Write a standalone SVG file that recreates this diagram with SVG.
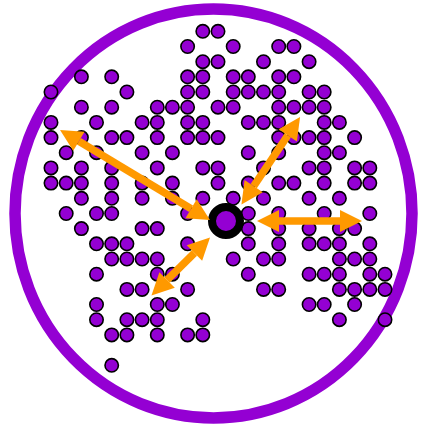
<svg xmlns="http://www.w3.org/2000/svg" width="425" height="426" viewBox="0 0 425 426">
<style>
.d{fill:#9400d3;stroke:#000;stroke-width:1.6}
.ar{stroke:#ff9900;stroke-width:7.5;fill:none;marker-start:url(#h);marker-end:url(#h)}
</style>
<defs>
<marker id="h" markerUnits="userSpaceOnUse" markerWidth="22" markerHeight="22" refX="0" refY="11" orient="auto-start-reverse" overflow="visible">
<path d="M0,0 L22,11 L0,22 z" fill="#ff9900"/>
</marker>
</defs>
<rect width="425" height="426" fill="#fff"/>
<g id="ring"><ellipse cx="213.5" cy="213.5" rx="198.5" ry="204.5" fill="none" stroke="#9400d3" stroke-width="11.5"/></g>
<g id="dots" class="dots">
<g transform="translate(0,31.3)"><circle class="d" r="6.7" cx="202.8"/><circle class="d" r="6.7" cx="218"/></g>
<g transform="translate(0,46.5)"><circle class="d" r="6.7" cx="187.6"/><circle class="d" r="6.7" cx="233.2"/><circle class="d" r="6.7" cx="278.7"/><circle class="d" r="6.7" cx="293.9"/></g>
<g transform="translate(0,61.7)"><circle class="d" r="6.7" cx="202.8"/><circle class="d" r="6.7" cx="218"/><circle class="d" r="6.7" cx="263.5"/><circle class="d" r="6.7" cx="309.1"/></g>
<g transform="translate(0,76.8)"><circle class="d" r="6.7" cx="81.4"/><circle class="d" r="6.7" cx="111.7"/><circle class="d" r="6.7" cx="187.6"/><circle class="d" r="6.7" cx="202.8"/><circle class="d" r="6.7" cx="233.2"/><circle class="d" r="6.7" cx="248.3"/><circle class="d" r="6.7" cx="278.7"/><circle class="d" r="6.7" cx="293.9"/></g>
<g transform="translate(0,92)"><circle class="d" r="6.7" cx="51"/><circle class="d" r="6.7" cx="126.9"/><circle class="d" r="6.7" cx="187.6"/><circle class="d" r="6.7" cx="202.8"/><circle class="d" r="6.7" cx="233.2"/><circle class="d" r="6.7" cx="248.3"/><circle class="d" r="6.7" cx="263.5"/><circle class="d" r="6.7" cx="278.7"/><circle class="d" r="6.7" cx="309.1"/><circle class="d" r="6.7" cx="324.2"/></g>
<g transform="translate(0,107.2)"><circle class="d" r="6.7" cx="81.4"/><circle class="d" r="6.7" cx="111.7"/><circle class="d" r="6.7" cx="157.3"/><circle class="d" r="6.7" cx="172.4"/><circle class="d" r="6.7" cx="187.6"/><circle class="d" r="6.7" cx="218"/><circle class="d" r="6.7" cx="233.2"/><circle class="d" r="6.7" cx="278.7"/><circle class="d" r="6.7" cx="293.9"/><circle class="d" r="6.7" cx="309.1"/><circle class="d" r="6.7" cx="324.2"/></g>
<g transform="translate(0,122.4)"><circle class="d" r="6.7" cx="51"/><circle class="d" r="6.7" cx="96.5"/><circle class="d" r="6.7" cx="142.1"/><circle class="d" r="6.7" cx="157.3"/><circle class="d" r="6.7" cx="187.6"/><circle class="d" r="6.7" cx="202.8"/><circle class="d" r="6.7" cx="248.3"/><circle class="d" r="6.7" cx="263.5"/><circle class="d" r="6.7" cx="278.7"/><circle class="d" r="6.7" cx="324.2"/><circle class="d" r="6.7" cx="339.4"/></g>
<g transform="translate(0,137.6)"><circle class="d" r="6.7" cx="51"/><circle class="d" r="6.7" cx="81.4"/><circle class="d" r="6.7" cx="111.7"/><circle class="d" r="6.7" cx="126.9"/><circle class="d" r="6.7" cx="157.3"/><circle class="d" r="6.7" cx="187.6"/><circle class="d" r="6.7" cx="202.8"/><circle class="d" r="6.7" cx="218"/><circle class="d" r="6.7" cx="278.7"/><circle class="d" r="6.7" cx="293.9"/><circle class="d" r="6.7" cx="309.1"/><circle class="d" r="6.7" cx="324.2"/><circle class="d" r="6.7" cx="354.6"/></g>
<g transform="translate(0,152.7)"><circle class="d" r="6.7" cx="66.2"/><circle class="d" r="6.7" cx="96.5"/><circle class="d" r="6.7" cx="142.1"/><circle class="d" r="6.7" cx="172.4"/><circle class="d" r="6.7" cx="248.3"/><circle class="d" r="6.7" cx="278.7"/><circle class="d" r="6.7" cx="324.2"/><circle class="d" r="6.7" cx="339.4"/></g>
<g transform="translate(0,167.9)"><circle class="d" r="6.7" cx="51"/><circle class="d" r="6.7" cx="81.4"/><circle class="d" r="6.7" cx="111.7"/><circle class="d" r="6.7" cx="157.3"/><circle class="d" r="6.7" cx="202.8"/><circle class="d" r="6.7" cx="218"/><circle class="d" r="6.7" cx="263.5"/><circle class="d" r="6.7" cx="309.1"/><circle class="d" r="6.7" cx="324.2"/><circle class="d" r="6.7" cx="354.6"/><circle class="d" r="6.7" cx="369.8"/></g>
<g transform="translate(0,183.1)"><circle class="d" r="6.7" cx="51"/><circle class="d" r="6.7" cx="66.2"/><circle class="d" r="6.7" cx="81.4"/><circle class="d" r="6.7" cx="111.7"/><circle class="d" r="6.7" cx="142.1"/><circle class="d" r="6.7" cx="172.4"/><circle class="d" r="6.7" cx="218"/><circle class="d" r="6.7" cx="248.3"/><circle class="d" r="6.7" cx="278.7"/><circle class="d" r="6.7" cx="293.9"/><circle class="d" r="6.7" cx="324.2"/><circle class="d" r="6.7" cx="354.6"/><circle class="d" r="6.7" cx="369.8"/></g>
<g transform="translate(0,198.3)"><circle class="d" r="6.7" cx="81.4"/><circle class="d" r="6.7" cx="111.7"/><circle class="d" r="6.7" cx="142.1"/><circle class="d" r="6.7" cx="172.4"/><circle class="d" r="6.7" cx="202.8"/><circle class="d" r="6.7" cx="233.2"/><circle class="d" r="6.7" cx="263.5"/><circle class="d" r="6.7" cx="309.1"/><circle class="d" r="6.7" cx="339.4"/></g>
<g transform="translate(0,213.5)"><circle class="d" r="6.7" cx="66.2"/><circle class="d" r="6.7" cx="96.5"/><circle class="d" r="6.7" cx="111.7"/><circle class="d" r="6.7" cx="187.6"/><circle class="d" r="6.7" cx="248.3"/><circle class="d" r="6.7" cx="278.7"/><circle class="d" r="6.7" cx="324.2"/><circle class="d" r="6.7" cx="369.8"/></g>
<g transform="translate(0,228.6)"><circle class="d" r="6.7" cx="81.4"/><circle class="d" r="6.7" cx="142.1"/><circle class="d" r="6.7" cx="157.3"/><circle class="d" r="6.7" cx="248.3"/><circle class="d" r="6.7" cx="278.7"/><circle class="d" r="6.7" cx="309.1"/><circle class="d" r="6.7" cx="339.4"/><circle class="d" r="6.7" cx="354.6"/></g>
<g transform="translate(0,243.8)"><circle class="d" r="6.7" cx="96.5"/><circle class="d" r="6.7" cx="111.7"/><circle class="d" r="6.7" cx="126.9"/><circle class="d" r="6.7" cx="187.6"/><circle class="d" r="6.7" cx="248.3"/><circle class="d" r="6.7" cx="278.7"/><circle class="d" r="6.7" cx="309.1"/><circle class="d" r="6.7" cx="324.2"/><circle class="d" r="6.7" cx="339.4"/><circle class="d" r="6.7" cx="369.8"/></g>
<g transform="translate(0,259)"><circle class="d" r="6.7" cx="111.7"/><circle class="d" r="6.7" cx="126.9"/><circle class="d" r="6.7" cx="142.1"/><circle class="d" r="6.7" cx="157.3"/><circle class="d" r="6.7" cx="233.2"/><circle class="d" r="6.7" cx="263.5"/><circle class="d" r="6.7" cx="278.7"/><circle class="d" r="6.7" cx="339.4"/><circle class="d" r="6.7" cx="354.6"/><circle class="d" r="6.7" cx="369.8"/></g>
<g transform="translate(0,274.2)"><circle class="d" r="6.7" cx="96.5"/><circle class="d" r="6.7" cx="157.3"/><circle class="d" r="6.7" cx="172.4"/><circle class="d" r="6.7" cx="248.3"/><circle class="d" r="6.7" cx="309.1"/><circle class="d" r="6.7" cx="324.2"/><circle class="d" r="6.7" cx="339.4"/><circle class="d" r="6.7" cx="369.8"/><circle class="d" r="6.7" cx="385"/></g>
<g transform="translate(0,289.4)"><circle class="d" r="6.7" cx="126.9"/><circle class="d" r="6.7" cx="142.1"/><circle class="d" r="6.7" cx="187.6"/><circle class="d" r="6.7" cx="263.5"/><circle class="d" r="6.7" cx="278.7"/><circle class="d" r="6.7" cx="339.4"/><circle class="d" r="6.7" cx="354.6"/><circle class="d" r="6.7" cx="369.8"/><circle class="d" r="6.7" cx="385"/></g>
<g transform="translate(0,304.5)"><circle class="d" r="6.7" cx="96.5"/><circle class="d" r="6.7" cx="157.3"/><circle class="d" r="6.7" cx="172.4"/><circle class="d" r="6.7" cx="309.1"/><circle class="d" r="6.7" cx="324.2"/><circle class="d" r="6.7" cx="354.6"/></g>
<g transform="translate(0,319.7)"><circle class="d" r="6.7" cx="96.5"/><circle class="d" r="6.7" cx="126.9"/><circle class="d" r="6.7" cx="142.1"/><circle class="d" r="6.7" cx="157.3"/><circle class="d" r="6.7" cx="202.8"/><circle class="d" r="6.7" cx="339.4"/><circle class="d" r="6.7" cx="385"/></g>
<g transform="translate(0,334.9)"><circle class="d" r="6.7" cx="111.7"/><circle class="d" r="6.7" cx="126.9"/><circle class="d" r="6.7" cx="157.3"/><circle class="d" r="6.7" cx="187.6"/><circle class="d" r="6.7" cx="202.8"/></g>
<g transform="translate(0,365.3)"><circle class="d" r="6.7" cx="111.7"/></g>
</g>
<g id="agent"><circle cx="226" cy="221" r="14" fill="#9400d3" stroke="#000" stroke-width="8"/></g>
<g id="connectors">
<line class="ar" x1="78.9" y1="141.3" x2="191.1" y2="208.7"/>
<line class="ar" x1="253.7" y1="186.2" x2="287.8" y2="135.3"/>
<line class="ar" x1="279" y1="221" x2="340" y2="221"/>
<line class="ar" x1="194.4" y1="253" x2="167.1" y2="280"/>
</g>
</svg>
